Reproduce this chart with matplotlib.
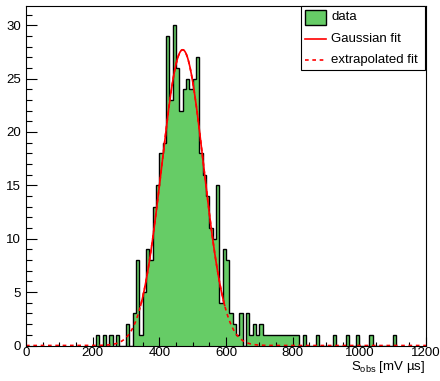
import numpy as np
import matplotlib
matplotlib.use("Agg")
import matplotlib.pyplot as plt
from matplotlib.patches import Rectangle
from matplotlib.lines import Line2D
from matplotlib.ticker import MultipleLocator

plt.rcParams['font.family'] = ['Liberation Sans', 'DejaVu Sans']
plt.rcParams['mathtext.fontset'] = 'custom'
plt.rcParams['mathtext.rm'] = 'Liberation Sans'
plt.rcParams['mathtext.it'] = 'Liberation Sans:italic'

# histogram: 10 mV us bins, first filled bin starts at 200
bin_width = 10
first_bin = 200
counts = [
    0, 1, 0, 1, 0, 1, 0, 1, 0, 0,        # 200-290
    2, 0, 3, 8, 1, 5, 9, 8, 13, 15,      # 300-390
    18, 19, 29, 23, 30, 26, 22, 24, 25, 24,  # 400-490
    25, 27, 18, 16, 14, 11, 10, 15, 4, 9,    # 500-590
    8, 3, 2, 1, 3, 0, 3, 1, 2, 1,        # 600-690
    2, 1, 1, 1, 1, 1, 1, 1, 1, 1,        # 700-790
    1, 1, 0, 1, 0, 0, 0, 1, 0, 0,        # 800-890
    0, 0, 1, 0, 0, 0, 1, 0, 0, 1,        # 900-990
    0, 0, 0, 1, 0, 0, 0, 0, 0, 0,        # 1000-1090
    1,                                   # 1100
]

# Gaussian fit parameters and fit window
fit_amp = 27.7
fit_mean = 470.0
fit_sigma = 63.0
fit_lo, fit_hi = 344.0, 596.0

x_min, x_max = 0, 1200
y_max = 31.8

W, H = 440, 381
fig = plt.figure(figsize=(W / 100, H / 100), dpi=100)
ax = fig.add_axes([26 / W, 1 - 345.5 / H, 400 / W, 339.5 / H])

edges = first_bin + bin_width * np.arange(len(counts) + 1)
ax.stairs(counts, edges, fill=True, color='#66cc66', linewidth=0)
ax.stairs(counts, edges, baseline=0, color='black', linewidth=1.0)


def gauss(x):
    return fit_amp * np.exp(-0.5 * ((x - fit_mean) / fit_sigma) ** 2)


xs_full = np.linspace(x_min, x_max, 1200)
ax.plot(xs_full, gauss(xs_full), color='red', linewidth=1.2,
        linestyle=(0, (2.2, 2.2)))
xs_fit = np.linspace(fit_lo, fit_hi, 400)
ax.plot(xs_fit, gauss(xs_fit), color='red', linewidth=1.2)

ax.set_xlim(x_min, x_max)
ax.set_ylim(0, y_max)
ax.xaxis.set_major_locator(MultipleLocator(200))
ax.xaxis.set_minor_locator(MultipleLocator(50))
ax.yaxis.set_major_locator(MultipleLocator(5))
ax.yaxis.set_minor_locator(MultipleLocator(1))
ax.tick_params(axis='both', which='both', direction='in', top=False,
               right=False, width=0.8, labelsize=9.5)
ax.tick_params(axis='x', which='major', length=6.5, pad=1.0)
ax.tick_params(axis='x', which='minor', length=3.2)
ax.tick_params(axis='y', which='major', length=8, pad=3.5)
ax.tick_params(axis='y', which='minor', length=4)
for s in ax.spines.values():
    s.set_linewidth(0.8)
ax.set_facecolor('white')

# axis title at the right end of the x axis
fig.text(425 / W, 1 - 367 / H, r'S$_{\mathrm{obs}}$ [mV µs]', ha='right',
         va='center', fontsize=9.5)

# legend box in the top right corner
lx0, lx1, ly0, ly1 = 301, 425, 6, 70


def fx(px):
    return px / W


def fy(py):
    return 1 - py / H


fig.patches.append(Rectangle((fx(lx0), fy(ly1)), fx(lx1) - fx(lx0),
                             fy(ly0) - fy(ly1), transform=fig.transFigure,
                             facecolor='white', edgecolor='black',
                             linewidth=0.8, zorder=5))
fig.patches.append(Rectangle((fx(305), fy(25)), fx(326) - fx(305),
                             fy(10) - fy(25), transform=fig.transFigure,
                             facecolor='#66cc66', edgecolor='black',
                             linewidth=1.0, zorder=6))
fig.lines.append(Line2D([fx(305), fx(326)], [fy(39), fy(39)],
                        transform=fig.transFigure, color='red',
                        linewidth=1.2, zorder=6))
fig.lines.append(Line2D([fx(305), fx(326)], [fy(60), fy(60)],
                        transform=fig.transFigure, color='red',
                        linewidth=1.2, linestyle=(0, (2.2, 2.2)), zorder=6))
for label, py in [('data', 17), ('Gaussian fit', 39), ('extrapolated fit', 60)]:
    fig.text(fx(331), fy(py), label, ha='left', va='center', fontsize=9.5,
             zorder=7)

fig.savefig('out.png', dpi=100)
